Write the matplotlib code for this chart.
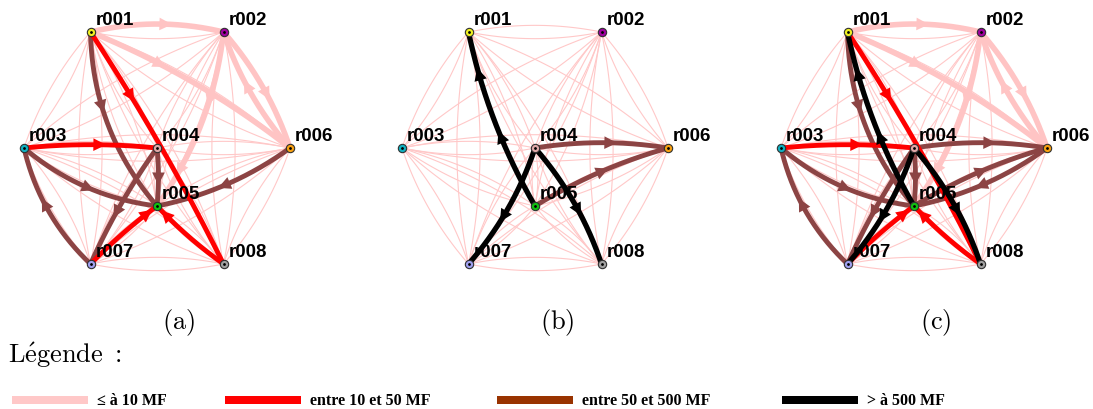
import numpy as np
import matplotlib.pyplot as plt
from matplotlib.patches import Rectangle

plt.rcParams['mathtext.fontset'] = 'cm'

# noeuds du graphe
nodes = ['r001', 'r002', 'r003', 'r004', 'r005', 'r006', 'r007', 'r008']
node_x = [-1, 1, -2, 0, 0, 2, -1, 1]
node_y = [1, 1, 0, 0, -0.5, 0, -1, -1]
node_colors = ['#f0f020', '#a000a0', '#10b0c0', '#e0a8a8',
               '#10c010', '#f8a010', '#a0a0f0', '#a0a0a0']

# classes de flux
classes = ['\u2264 \u00e0 10 MF', 'entre 10 et 50 MF', 'entre 50 et 500 MF', '> \u00e0 500 MF']
class_colors = ['#ffc4c4', '#ff0000', '#8c4444', '#000000']
legend_colors = ['#ffc8c8', '#ff0000', '#993300', '#000000']

# arcs (source, destination, classe) pour chaque panneau
edges_a = [(1, 2, 0), (1, 6, 0), (2, 6, 0), (6, 2, 0), (2, 5, 0),
           (1, 5, 2), (3, 5, 2), (7, 3, 2), (6, 5, 2), (4, 5, 2), (4, 7, 2),
           (1, 8, 1), (3, 4, 1), (7, 5, 1), (8, 5, 1)]
edges_b = [(4, 6, 2), (5, 6, 2),
           (5, 1, 3), (4, 7, 3), (4, 8, 3)]
edges_c = edges_a + edges_b
panels = ['a', 'b', 'c']

# style
SX, SY = 66.5, 116.0
bend = {(1, 2, 0): 0.12, (1, 6, 0): 0.07, (2, 6, 0): 0.1, (6, 2, 0): 0.1, (2, 5, 0): 0.13,
        (1, 5, 2): -0.18, (3, 5, 2): -0.15, (7, 3, 2): 0.15, (6, 5, 2): 0.11,
        (4, 5, 2): 0.05, (4, 7, 2): -0.05, (4, 6, 2): 0.08, (5, 6, 2): 0.07,
        (1, 8, 1): 0.03, (3, 4, 1): 0.05, (7, 5, 1): 0.04, (8, 5, 1): 0.05,
        (5, 1, 3): 0.08, (4, 7, 3): 0.1, (4, 8, 3): 0.1}
arrow_at = {(5, 1, 3): [78, 145], (2, 5, 0): [70, 147], (4, 5, 2): [32]}
widths = [4.0, 3.5, 3.5, 3.8]
centers = [157, 535, 914]


def bezier(p0, p2, rad, n=60):
    p0 = np.asarray(p0, float)
    p2 = np.asarray(p2, float)
    d = p2 - p0
    c = (p0 + p2) / 2 + rad * np.array([-d[1], d[0]])
    t = np.linspace(0, 1, n)[:, None]
    return (1 - t) ** 2 * p0 + 2 * t * (1 - t) * c + t ** 2 * p2


def pos(i):
    return (node_x[i - 1] * SX, node_y[i - 1] * SY)


def draw_panel(ax, edges):
    n = len(nodes)
    for i in range(1, n + 1):
        for j in range(1, n + 1):
            if i != j:
                pts = bezier(pos(i), pos(j), 0.1)
                ax.plot(pts[:, 0], pts[:, 1], color='#ffc8c8', lw=0.8, zorder=1)
    order = sorted(edges, key=lambda e: [0, 2, 1, 3][e[2]])
    for s, d, c in order:
        pts = bezier(pos(s), pos(d), bend.get((s, d, c), 0.08), n=301)
        col = class_colors[c]
        z = 2 + [0, 2, 1, 3][c]
        ax.plot(pts[:, 0], pts[:, 1], color=col, lw=widths[c],
                solid_capstyle='round', zorder=z)
        seg = np.hypot(*np.diff(pts, axis=0).T)
        L = np.concatenate([[0], np.cumsum(seg)])
        for dist in arrow_at.get((s, d, c), [77]):
            dist = min(dist, L[-1] - 10)
            k1 = min(np.searchsorted(L, dist + 5), len(pts) - 1)
            k0 = np.searchsorted(L, dist - 5)
            ax.annotate('', xy=pts[k1], xytext=pts[k0],
                        arrowprops=dict(arrowstyle='-|>,head_length=0.7,head_width=0.35',
                                        color=col, lw=0, mutation_scale=13,
                                        shrinkA=0, shrinkB=0), zorder=z)
    for i, name in enumerate(nodes):
        x, y = node_x[i] * SX, node_y[i] * SY
        ax.plot(x, y, 'o', ms=6, mfc=node_colors[i], mec='#303030', mew=0.8, zorder=10)
        ax.plot(x, y, '.', ms=2, color='black', zorder=11)
        ax.text(x + 5, y + 3, name, family='Liberation Sans', weight='bold',
                fontsize=13.5, ha='left', va='bottom', zorder=12)


fig = plt.figure(figsize=(10.93, 4.09), dpi=100)
W, H = 1093, 409
edge_sets = [edges_a, edges_b, edges_c]
for k, cx in enumerate(centers):
    ax = fig.add_axes([(cx - 165) / W, (H - 290) / H, 330 / W, 290 / H])
    ax.set_xlim(-165, 165)
    ax.set_ylim(-142, 148)
    ax.axis('off')
    draw_panel(ax, edge_sets[k])
    fig.text((cx + 22) / W, 1 - 322 / H, r'$(\mathrm{%s})$' % panels[k],
             fontsize=19, ha='center', va='center')

fig.text(8 / W, 1 - 355 / H, r'$\mathrm{L\acute{e}gende\ {:}}$', fontsize=19,
         ha='left', va='center')

leg = fig.add_axes([0, 0, 1, 1], zorder=-1)
leg.set_xlim(0, W)
leg.set_ylim(H, 0)
leg.axis('off')
leg_x = [12, 225, 497, 782]
for k, lab in enumerate(classes):
    leg.add_patch(Rectangle((leg_x[k], 396), 76, 8, color=legend_colors[k], lw=0))
    leg.text(leg_x[k] + 85, 401, lab, family='Liberation Serif', weight='bold',
             fontsize=11.5, ha='left', va='center')

fig.savefig('out.png', dpi=100)
